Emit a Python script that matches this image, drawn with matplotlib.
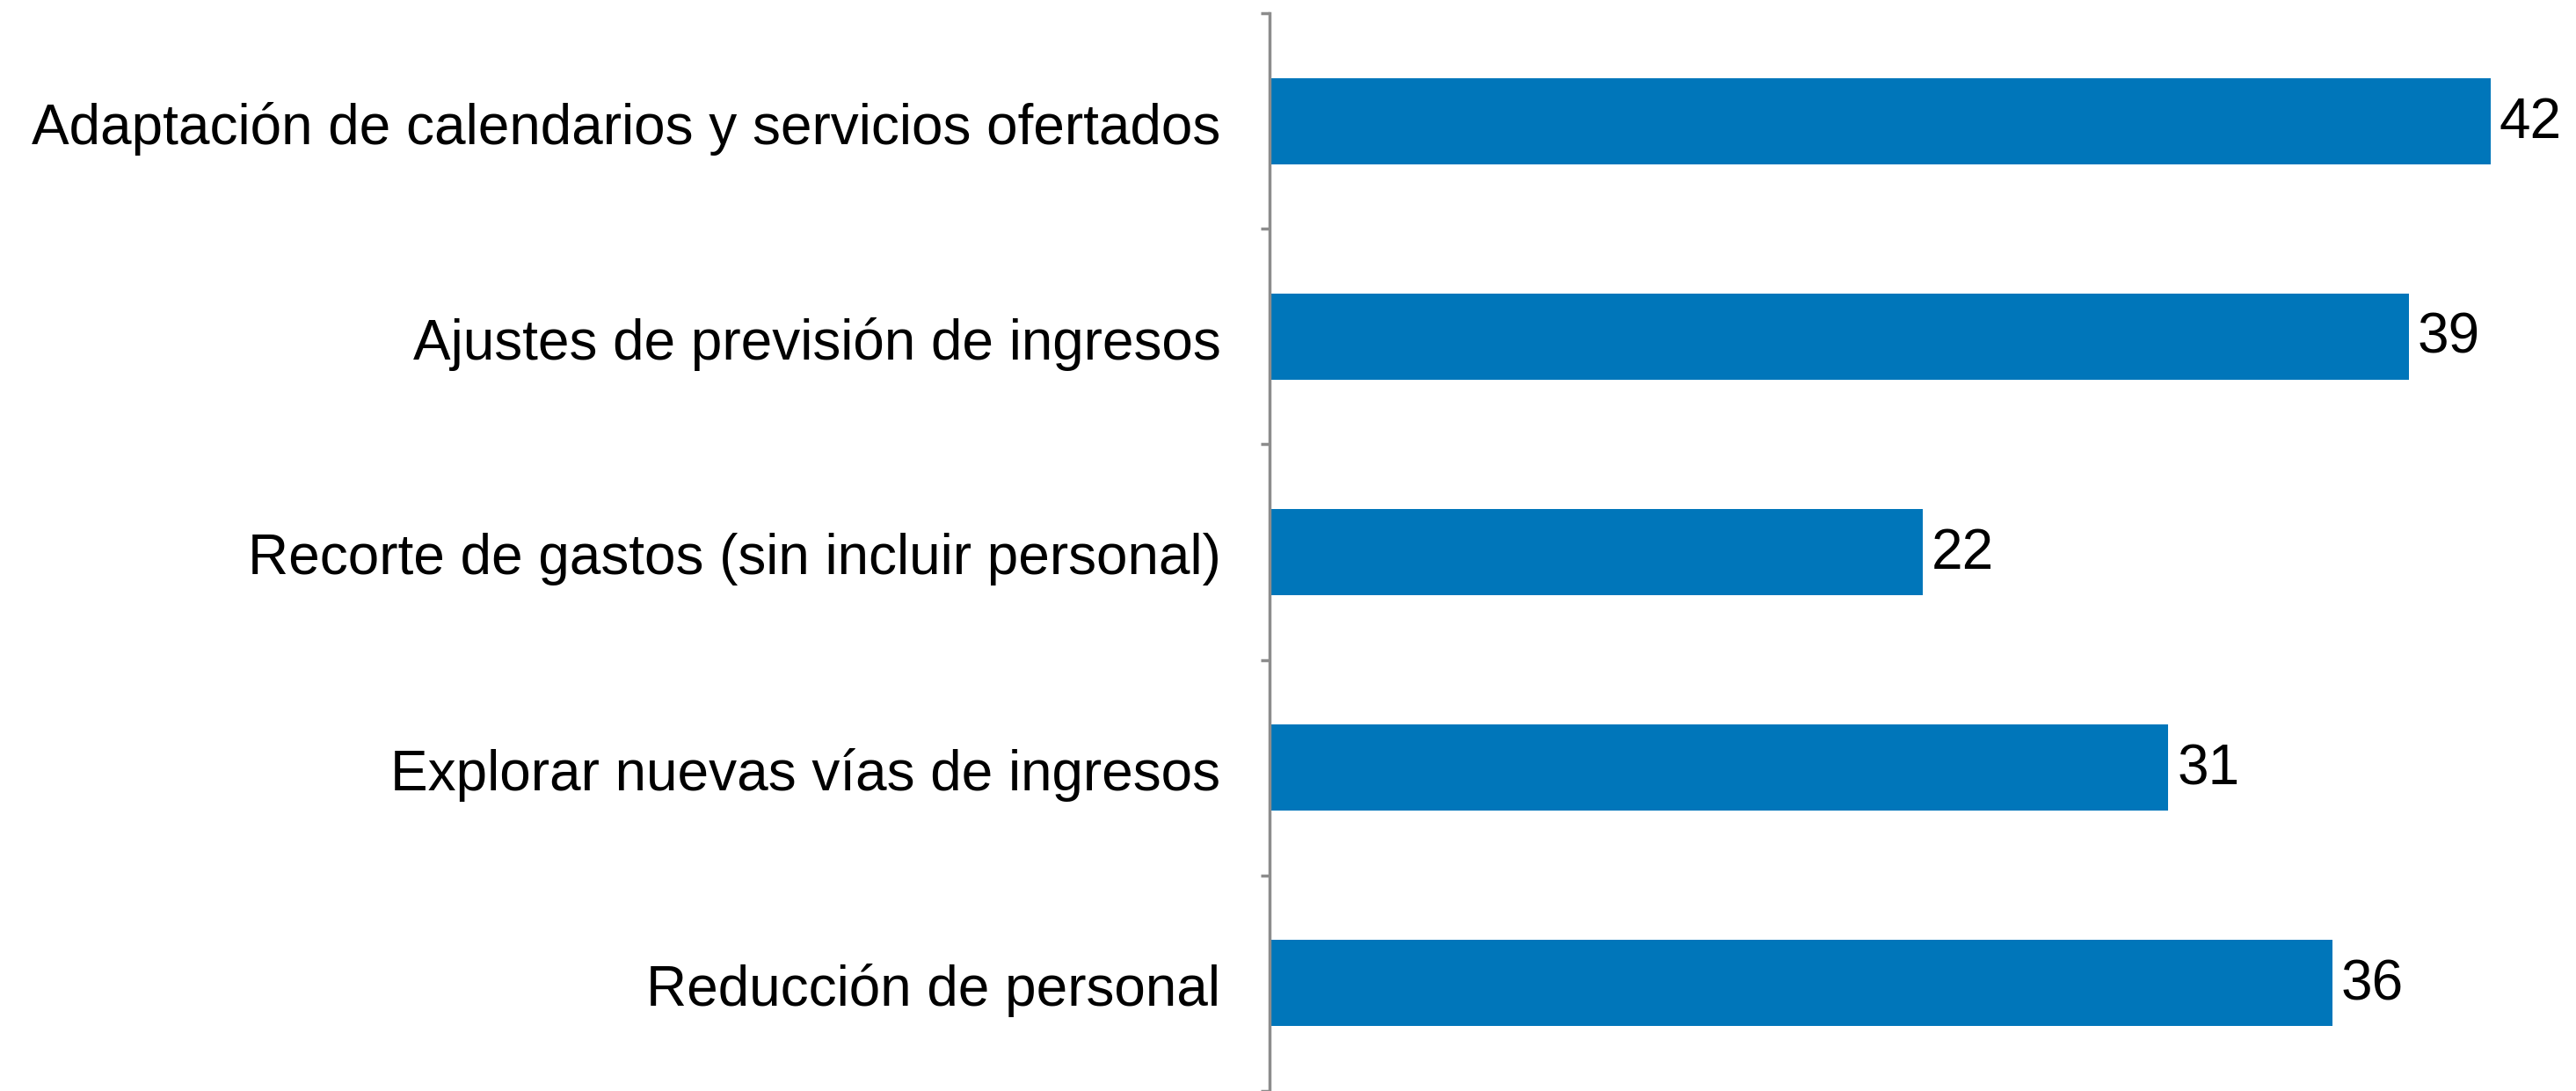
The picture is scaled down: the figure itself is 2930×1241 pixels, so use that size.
import numpy as np
import matplotlib.pyplot as plt
import matplotlib.transforms as mtransforms
from matplotlib.ticker import FixedLocator

plt.rcParams['font.family'] = ['Liberation Sans', 'DejaVu Sans']

categorias = ['Adaptación de calendarios y servicios ofertados',
              'Ajustes de previsión de ingresos',
              'Recorte de gastos (sin incluir personal)',
              'Explorar nuevas vías de ingresos',
              'Reducción de personal']
valores = [41.7, 38.9, 22.3, 30.7, 36.3]

fig = plt.figure(figsize=(29.30, 12.41), dpi=100)
ax = fig.add_axes([1444 / 2930, 0.0, 1 - 1444 / 2930, 1 - 15 / 1241])

pos = np.arange(len(categorias))
bars = ax.barh(pos, valores, height=0.4, color='#0076BA')

ax.set_xlim(0, 44.62)
ax.set_ylim(len(categorias) - 0.5, -0.5)

ax.set_yticks(pos)
ax.set_yticklabels(categorias, fontsize=46)
ax.tick_params(axis='y', which='major', length=0, pad=40)
ax.yaxis.set_minor_locator(FixedLocator(np.arange(-0.5, len(categorias), 1)))
ax.tick_params(axis='y', which='minor', length=7, width=2.5, color='#8c8c8c', direction='out')

shift = mtransforms.ScaledTranslation(0, -2 / 100, fig.dpi_scale_trans)
for lbl in ax.get_yticklabels():
    lbl.set_transform(lbl.get_transform() + shift)

ax.set_xticks([])
for s in ['top', 'right', 'bottom']:
    ax.spines[s].set_visible(False)
ax.spines['left'].set_color('#8c8c8c')
ax.spines['left'].set_linewidth(2.5)

for b, v in zip(bars, valores):
    ax.annotate(f'{v:.0f}', xy=(b.get_width(), b.get_y() + b.get_height() / 2),
                xytext=(7, -1.5), textcoords='offset points',
                va='center', ha='left', fontsize=46)

fig.savefig('out.png', dpi=100)
